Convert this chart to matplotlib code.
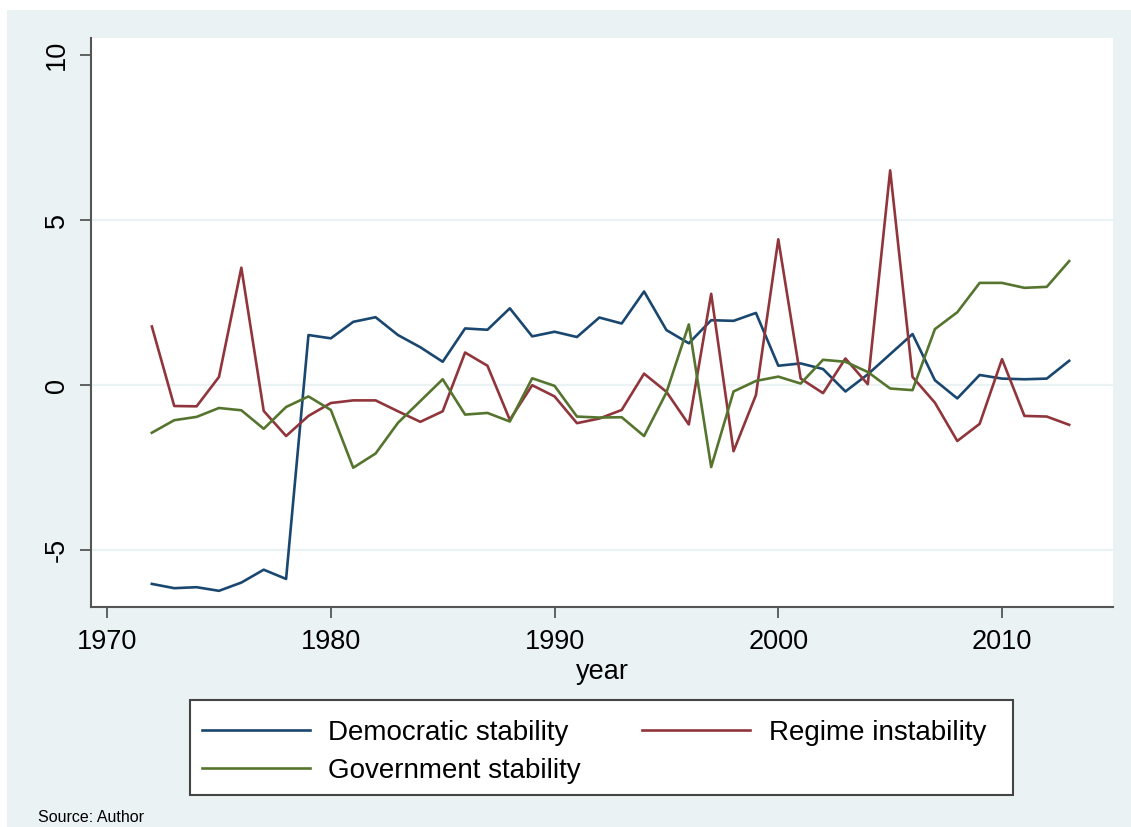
import matplotlib
matplotlib.use("Agg")
import matplotlib.pyplot as plt
from matplotlib.patches import Rectangle

plt.rcParams['font.family'] = ['Liberation Sans', 'DejaVu Sans']
plt.rcParams['axes.unicode_minus'] = False

# data
years = list(range(1972, 2014))

democratic_stability = [
    -6.02, -6.15, -6.12, -6.23, -5.98, -5.59, -5.87, 1.52, 1.42, 1.92,
    2.06, 1.52, 1.15, 0.71, 1.72, 1.68, 2.33, 1.48, 1.62, 1.46,
    2.05, 1.87, 2.84, 1.67, 1.27, 1.97, 1.95, 2.19, 0.59, 0.66,
    0.49, -0.19, 0.33, 0.94, 1.55, 0.15, -0.40, 0.31, 0.20, 0.18,
    0.20, 0.74,
]
regime_instability = [
    1.78, -0.63, -0.64, 0.25, 3.56, -0.78, -1.54, -0.93, -0.54, -0.46,
    -0.46, -0.79, -1.11, -0.79, 0.99, 0.59, -1.05, 0.00, -0.34, -1.15,
    -1.01, -0.75, 0.35, -0.20, -1.19, 2.77, -2.00, -0.30, 4.42, 0.20,
    -0.24, 0.81, 0.03, 6.51, 0.25, -0.53, -1.69, -1.17, 0.79, -0.93,
    -0.95, -1.20,
]
government_stability = [
    -1.44, -1.06, -0.96, -0.69, -0.76, -1.32, -0.66, -0.34, -0.75, -2.50,
    -2.07, -1.14, -0.48, 0.18, -0.89, -0.84, -1.10, 0.21, -0.02, -0.95,
    -0.98, -0.97, -1.54, -0.22, 1.84, -2.48, -0.19, 0.13, 0.26, 0.05,
    0.77, 0.71, 0.40, -0.10, -0.15, 1.70, 2.21, 3.10, 3.10, 2.95,
    2.98, 3.76,
]

x_ticks = [1970, 1980, 1990, 2000, 2010]
y_ticks = [-5, 0, 5, 10]

BG = '#eaf2f3'
FS = 19.5
W, H = 1131, 827

fig = plt.figure(figsize=(11.31, 8.27), dpi=100, facecolor='white')
# Stata-like graph region (white strips at the top and left edges)
fig.patches.append(Rectangle((7 / W, 0), 1, 1 - 10 / H,
                             transform=fig.transFigure, facecolor=BG,
                             edgecolor='none', zorder=-10))

ax = fig.add_axes([91 / W, 1 - 607 / H, (1113 - 91) / W, (607 - 38) / H])
ax.set_facecolor('white')

l_dem, = ax.plot(years, democratic_stability, color='#1a476f', lw=1.9, label='Democratic stability')
l_reg, = ax.plot(years, regime_instability, color='#90353b', lw=1.9, label='Regime instability')
l_gov, = ax.plot(years, government_stability, color='#55752f', lw=1.9, label='Government stability')

ax.set_xlim(1969.28, 2014.96)
ax.set_ylim(-6.72, 10.52)
ax.set_xticks(x_ticks)
ax.set_yticks(y_ticks)

for v in [-5, 0, 5]:
    ax.axhline(v, color=BG, lw=1.6, zorder=0)

for side in ['top', 'right']:
    ax.spines[side].set_visible(False)
for side in ['left', 'bottom']:
    ax.spines[side].set_color('#555555')
    ax.spines[side].set_linewidth(1.5)

ax.tick_params(axis='both', direction='out', length=8, width=1.3,
               color='#555555', labelsize=FS)
ax.tick_params(axis='x', pad=8)
ax.tick_params(axis='y', pad=7)
for lab in ax.get_yticklabels():
    lab.set_rotation(90)
    lab.set_va('center')

ax.set_xlabel('year', fontsize=FS, labelpad=3)

# legend box drawn separately so the entries can sit like Stata's
fig.patches.append(Rectangle((190 / W, 1 - 795 / H), 823 / W, 95 / H,
                             transform=fig.transFigure, facecolor='white',
                             edgecolor='#444444', lw=1.5, zorder=1))

# legend is filled column by column, so order handles to read row-wise
handles = [l_dem, l_gov, l_reg]
leg = fig.legend(handles, [h.get_label() for h in handles],
                 loc='center left', ncol=2,
                 bbox_to_anchor=(202 / W, 1 - 752 / H),
                 fontsize=20, frameon=False,
                 handlelength=3.9, handletextpad=0.65, labelspacing=0.42,
                 columnspacing=2.2, borderpad=0, borderaxespad=0)
leg.set_zorder(2)

fig.text(38 / W, 1 - 818 / H, 'Source: Author', fontsize=11.5,
         ha='left', va='center')

fig.savefig('out.png', dpi=100, facecolor=fig.get_facecolor())
